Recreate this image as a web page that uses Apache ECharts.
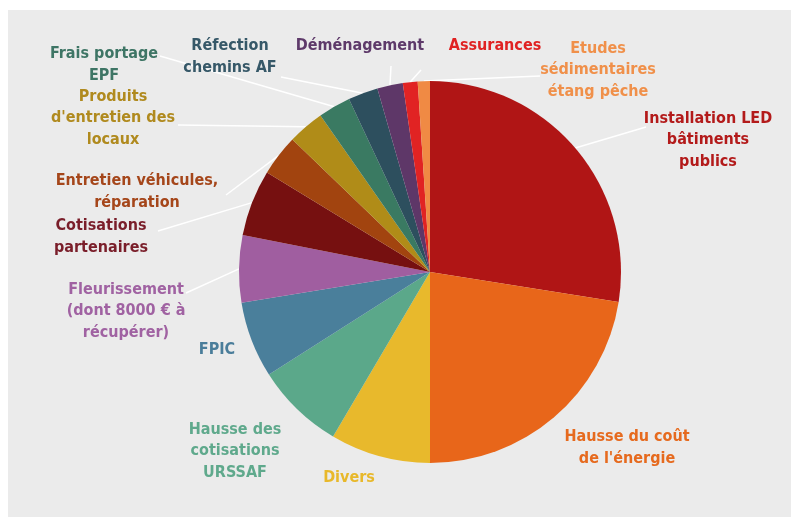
<!DOCTYPE html>
<html>
<head>
<meta charset="utf-8">
<script src="https://cdn.jsdelivr.net/npm/echarts@6/dist/echarts.min.js"></script>
<style>
html,body{margin:0;padding:0;background:#ffffff;}
#c{width:791px;height:517px;}
</style>
</head>
<body>
<div id="c"></div>
<script>
// ---- data (slice sizes, in degrees of the full circle) ----
var categories = [
  "Installation LED\nbâtiments\npublics",
  "Hausse du coût\nde l'énergie",
  "Divers",
  "Hausse des\ncotisations\nURSSAF",
  "FPIC",
  "Fleurissement\n(dont 8000 € à\nrécupérer)",
  "Cotisations\npartenaires",
  "Entretien véhicules,\nréparation",
  "Produits\nd'entretien des\nlocaux",
  "Frais portage\nEPF",
  "Réfection\nchemins AF",
  "Déménagement",
  "Assurances",
  "Etudes\nsédimentaires\nétang pêche"
];
var values = [99, 81, 30.5, 27, 23.2, 20.5, 20.2, 12.5, 11.1, 9.9, 9.1, 7.8, 4.5, 3.7];

// ---- styles / layout ----
var sliceColors = ["#b01515", "#e8661a", "#e8b92c", "#5ba88a", "#4a7f9b", "#a05ea0", "#761010",
                   "#a2440f", "#b08c18", "#3a7a62", "#2d4f5e", "#5e3768", "#e12323", "#f08a44"];
var labelColors = ["#b31a1a", "#e66a1e", "#e8b82a", "#5fa98c", "#4a7d9a", "#a062a2", "#7a1e2a",
                   "#a5461a", "#b08a1e", "#3e7565", "#365868", "#5e3a6a", "#e02222", "#f0904a"];
var labelPos = [[708, 140], [627, 448], [349, 478], [235, 451], [217, 350], [126, 311], [101, 237],
                [137, 192], [113, 118], [104, 65], [230, 57], [360, 46], [495, 46], [598, 70]];
var lineEnd = [[646, 127], null, null, null, null, [186, 293], [158, 231], [226, 195], [178, 125],
               [160, 56], [281, 77], [391, 66], [421, 70], [540, 76]];

var data = categories.map(function (n, i) {
  return {
    name: n,
    value: values[i],
    itemStyle: { color: sliceColors[i] },
    label: { color: labelColors[i] },
    labelLine: { show: !!lineEnd[i] }
  };
});

var chart = echarts.init(document.getElementById('c'), null, { renderer: 'canvas' });
chart.setOption({
  backgroundColor: '#ffffff',
  animation: false,
  graphic: [{
    type: 'rect', z: -10, silent: true,
    shape: { x: 8, y: 10, width: 783, height: 507 },
    style: { fill: '#ebebeb' }
  }],
  series: [{
    type: 'pie',
    center: [430, 272],
    radius: [0, 191],
    startAngle: 90,
    clockwise: true,
    avoidLabelOverlap: false,
    emphasis: { disabled: true },
    itemStyle: { borderWidth: 0 },
    label: {
      show: true,
      position: 'outside',
      formatter: '{b}',
      fontFamily: 'DejaVu Sans Condensed',
      fontWeight: 'bold',
      fontSize: 16,
      lineHeight: 21.5,
      align: 'center'
    },
    labelLine: {
      show: true,
      lineStyle: { color: '#ffffff', width: 1.5 }
    },
    labelLayout: function (p) {
      var i = p.dataIndex;
      var res = {
        x: labelPos[i][0], y: labelPos[i][1],
        align: 'center', verticalAlign: 'middle',
        hideOverlap: false
      };
      if (lineEnd[i] && p.labelLinePoints) {
        res.labelLinePoints = [p.labelLinePoints[0], lineEnd[i]];
      }
      return res;
    },
    data: data
  }]
});
</script>
</body>
</html>
